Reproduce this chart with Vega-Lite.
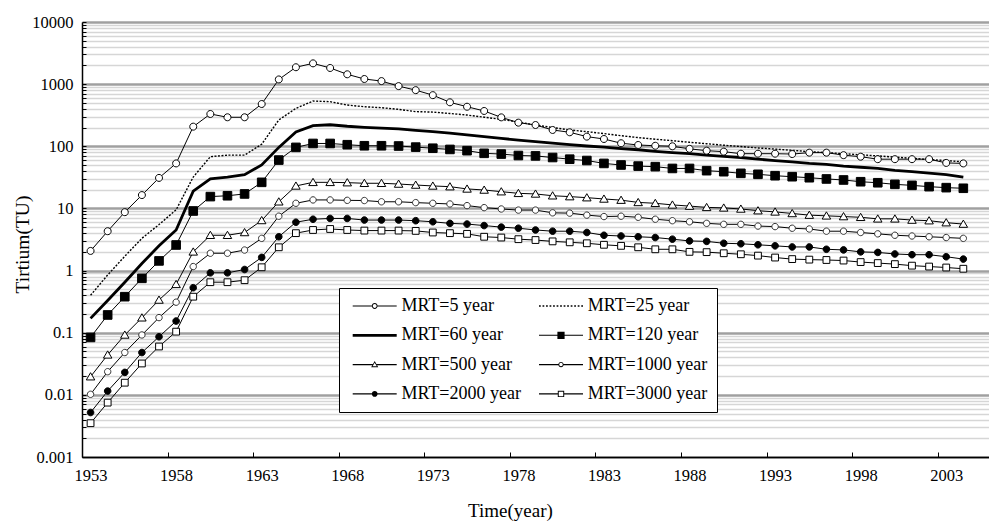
{
  "$schema": "https://vega.github.io/schema/vega-lite/v6.json",
  "width": 907,
  "height": 435,
  "autosize": "none",
  "padding": {"left": 82, "top": 22, "right": 0, "bottom": 64},
  "background": "white",
  "config": {
    "font": "Liberation Serif",
    "view": {"stroke": null}
  },
  "data": {"values": [
{"series":"MRT=5 year","year":1953,"tu":2.07},{"series":"MRT=5 year","year":1954,"tu":4.3},{"series":"MRT=5 year","year":1955,"tu":8.7},{"series":"MRT=5 year","year":1956,"tu":16.4},{"series":"MRT=5 year","year":1957,"tu":31},{"series":"MRT=5 year","year":1958,"tu":53},{"series":"MRT=5 year","year":1959,"tu":207},{"series":"MRT=5 year","year":1960,"tu":331},{"series":"MRT=5 year","year":1961,"tu":293},{"series":"MRT=5 year","year":1962,"tu":293},
{"series":"MRT=5 year","year":1963,"tu":479},{"series":"MRT=5 year","year":1964,"tu":1190},{"series":"MRT=5 year","year":1965,"tu":1870},{"series":"MRT=5 year","year":1966,"tu":2160},{"series":"MRT=5 year","year":1967,"tu":1820},{"series":"MRT=5 year","year":1968,"tu":1440},{"series":"MRT=5 year","year":1969,"tu":1210},{"series":"MRT=5 year","year":1970,"tu":1120},{"series":"MRT=5 year","year":1971,"tu":930},{"series":"MRT=5 year","year":1972,"tu":800},
{"series":"MRT=5 year","year":1973,"tu":665},{"series":"MRT=5 year","year":1974,"tu":510},{"series":"MRT=5 year","year":1975,"tu":433},{"series":"MRT=5 year","year":1976,"tu":370},{"series":"MRT=5 year","year":1977,"tu":292},{"series":"MRT=5 year","year":1978,"tu":240},{"series":"MRT=5 year","year":1979,"tu":220},{"series":"MRT=5 year","year":1980,"tu":183},{"series":"MRT=5 year","year":1981,"tu":168},{"series":"MRT=5 year","year":1982,"tu":143},
{"series":"MRT=5 year","year":1983,"tu":131},{"series":"MRT=5 year","year":1984,"tu":112},{"series":"MRT=5 year","year":1985,"tu":105},{"series":"MRT=5 year","year":1986,"tu":102},{"series":"MRT=5 year","year":1987,"tu":100},{"series":"MRT=5 year","year":1988,"tu":91},{"series":"MRT=5 year","year":1989,"tu":85},{"series":"MRT=5 year","year":1990,"tu":82},{"series":"MRT=5 year","year":1991,"tu":76},{"series":"MRT=5 year","year":1992,"tu":76},
{"series":"MRT=5 year","year":1993,"tu":76},{"series":"MRT=5 year","year":1994,"tu":75},{"series":"MRT=5 year","year":1995,"tu":79},{"series":"MRT=5 year","year":1996,"tu":79},{"series":"MRT=5 year","year":1997,"tu":72},{"series":"MRT=5 year","year":1998,"tu":68},{"series":"MRT=5 year","year":1999,"tu":62},{"series":"MRT=5 year","year":2000,"tu":62},{"series":"MRT=5 year","year":2001,"tu":62},{"series":"MRT=5 year","year":2002,"tu":62},{"series":"MRT=5 year","year":2003,"tu":54},{"series":"MRT=5 year","year":2004,"tu":53},

{"series":"MRT=25 year","year":1953,"tu":0.4},{"series":"MRT=25 year","year":1954,"tu":0.85},{"series":"MRT=25 year","year":1955,"tu":1.7},{"series":"MRT=25 year","year":1956,"tu":3.3},{"series":"MRT=25 year","year":1957,"tu":5.5},{"series":"MRT=25 year","year":1958,"tu":9.5},{"series":"MRT=25 year","year":1959,"tu":32},{"series":"MRT=25 year","year":1960,"tu":68},{"series":"MRT=25 year","year":1961,"tu":72},{"series":"MRT=25 year","year":1962,"tu":72},
{"series":"MRT=25 year","year":1963,"tu":108},{"series":"MRT=25 year","year":1964,"tu":265},{"series":"MRT=25 year","year":1965,"tu":408},{"series":"MRT=25 year","year":1966,"tu":535},{"series":"MRT=25 year","year":1967,"tu":522},{"series":"MRT=25 year","year":1968,"tu":461},{"series":"MRT=25 year","year":1969,"tu":433},{"series":"MRT=25 year","year":1970,"tu":418},{"series":"MRT=25 year","year":1971,"tu":393},{"series":"MRT=25 year","year":1972,"tu":361},
{"series":"MRT=25 year","year":1973,"tu":355},{"series":"MRT=25 year","year":1974,"tu":337},{"series":"MRT=25 year","year":1975,"tu":318},{"series":"MRT=25 year","year":1976,"tu":294},{"series":"MRT=25 year","year":1977,"tu":271},{"series":"MRT=25 year","year":1978,"tu":245},{"series":"MRT=25 year","year":1979,"tu":220},{"series":"MRT=25 year","year":1980,"tu":200},{"series":"MRT=25 year","year":1981,"tu":183},{"series":"MRT=25 year","year":1982,"tu":172},
{"series":"MRT=25 year","year":1983,"tu":160},{"series":"MRT=25 year","year":1984,"tu":148},{"series":"MRT=25 year","year":1985,"tu":138},{"series":"MRT=25 year","year":1986,"tu":130},{"series":"MRT=25 year","year":1987,"tu":123},{"series":"MRT=25 year","year":1988,"tu":116},{"series":"MRT=25 year","year":1989,"tu":110},{"series":"MRT=25 year","year":1990,"tu":104},{"series":"MRT=25 year","year":1991,"tu":99},{"series":"MRT=25 year","year":1992,"tu":94},
{"series":"MRT=25 year","year":1993,"tu":90},{"series":"MRT=25 year","year":1994,"tu":86},{"series":"MRT=25 year","year":1995,"tu":82},{"series":"MRT=25 year","year":1996,"tu":79},{"series":"MRT=25 year","year":1997,"tu":76},{"series":"MRT=25 year","year":1998,"tu":73},{"series":"MRT=25 year","year":1999,"tu":70},{"series":"MRT=25 year","year":2000,"tu":67},{"series":"MRT=25 year","year":2001,"tu":64},{"series":"MRT=25 year","year":2002,"tu":61},{"series":"MRT=25 year","year":2003,"tu":59},{"series":"MRT=25 year","year":2004,"tu":56},

{"series":"MRT=60 year","year":1953,"tu":0.17},{"series":"MRT=60 year","year":1954,"tu":0.33},{"series":"MRT=60 year","year":1955,"tu":0.65},{"series":"MRT=60 year","year":1956,"tu":1.3},{"series":"MRT=60 year","year":1957,"tu":2.5},{"series":"MRT=60 year","year":1958,"tu":4.5},{"series":"MRT=60 year","year":1959,"tu":19},{"series":"MRT=60 year","year":1960,"tu":30},{"series":"MRT=60 year","year":1961,"tu":32},{"series":"MRT=60 year","year":1962,"tu":35},
{"series":"MRT=60 year","year":1963,"tu":50},{"series":"MRT=60 year","year":1964,"tu":96},{"series":"MRT=60 year","year":1965,"tu":170},{"series":"MRT=60 year","year":1966,"tu":215},{"series":"MRT=60 year","year":1967,"tu":222},{"series":"MRT=60 year","year":1968,"tu":210},{"series":"MRT=60 year","year":1969,"tu":202},{"series":"MRT=60 year","year":1970,"tu":196},{"series":"MRT=60 year","year":1971,"tu":190},{"series":"MRT=60 year","year":1972,"tu":180},
{"series":"MRT=60 year","year":1973,"tu":172},{"series":"MRT=60 year","year":1974,"tu":163},{"series":"MRT=60 year","year":1975,"tu":153},{"series":"MRT=60 year","year":1976,"tu":143},{"series":"MRT=60 year","year":1977,"tu":134},{"series":"MRT=60 year","year":1978,"tu":126},{"series":"MRT=60 year","year":1979,"tu":119},{"series":"MRT=60 year","year":1980,"tu":112},{"series":"MRT=60 year","year":1981,"tu":106},{"series":"MRT=60 year","year":1982,"tu":101},
{"series":"MRT=60 year","year":1983,"tu":97},{"series":"MRT=60 year","year":1984,"tu":92},{"series":"MRT=60 year","year":1985,"tu":88},{"series":"MRT=60 year","year":1986,"tu":83},{"series":"MRT=60 year","year":1987,"tu":79},{"series":"MRT=60 year","year":1988,"tu":76},{"series":"MRT=60 year","year":1989,"tu":72},{"series":"MRT=60 year","year":1990,"tu":69},{"series":"MRT=60 year","year":1991,"tu":66},{"series":"MRT=60 year","year":1992,"tu":62},
{"series":"MRT=60 year","year":1993,"tu":59},{"series":"MRT=60 year","year":1994,"tu":56},{"series":"MRT=60 year","year":1995,"tu":53},{"series":"MRT=60 year","year":1996,"tu":51},{"series":"MRT=60 year","year":1997,"tu":48},{"series":"MRT=60 year","year":1998,"tu":46},{"series":"MRT=60 year","year":1999,"tu":44},{"series":"MRT=60 year","year":2000,"tu":41},{"series":"MRT=60 year","year":2001,"tu":39},{"series":"MRT=60 year","year":2002,"tu":37},{"series":"MRT=60 year","year":2003,"tu":35},{"series":"MRT=60 year","year":2004,"tu":32},

{"series":"MRT=120 year","year":1953,"tu":0.084},{"series":"MRT=120 year","year":1954,"tu":0.193},{"series":"MRT=120 year","year":1955,"tu":0.38},{"series":"MRT=120 year","year":1956,"tu":0.75},{"series":"MRT=120 year","year":1957,"tu":1.43},{"series":"MRT=120 year","year":1958,"tu":2.58},{"series":"MRT=120 year","year":1959,"tu":9.1},{"series":"MRT=120 year","year":1960,"tu":15.5},{"series":"MRT=120 year","year":1961,"tu":16},{"series":"MRT=120 year","year":1962,"tu":17.1},
{"series":"MRT=120 year","year":1963,"tu":26.3},{"series":"MRT=120 year","year":1964,"tu":60},{"series":"MRT=120 year","year":1965,"tu":96},{"series":"MRT=120 year","year":1966,"tu":111},{"series":"MRT=120 year","year":1967,"tu":111},{"series":"MRT=120 year","year":1968,"tu":106},{"series":"MRT=120 year","year":1969,"tu":102},{"series":"MRT=120 year","year":1970,"tu":102},{"series":"MRT=120 year","year":1971,"tu":101},{"series":"MRT=120 year","year":1972,"tu":97},
{"series":"MRT=120 year","year":1973,"tu":93},{"series":"MRT=120 year","year":1974,"tu":89},{"series":"MRT=120 year","year":1975,"tu":85},{"series":"MRT=120 year","year":1976,"tu":77},{"series":"MRT=120 year","year":1977,"tu":75},{"series":"MRT=120 year","year":1978,"tu":71},{"series":"MRT=120 year","year":1979,"tu":70},{"series":"MRT=120 year","year":1980,"tu":66},{"series":"MRT=120 year","year":1981,"tu":62},{"series":"MRT=120 year","year":1982,"tu":59},
{"series":"MRT=120 year","year":1983,"tu":53},{"series":"MRT=120 year","year":1984,"tu":50},{"series":"MRT=120 year","year":1985,"tu":48},{"series":"MRT=120 year","year":1986,"tu":47},{"series":"MRT=120 year","year":1987,"tu":44},{"series":"MRT=120 year","year":1988,"tu":44},{"series":"MRT=120 year","year":1989,"tu":40.5},{"series":"MRT=120 year","year":1990,"tu":39},{"series":"MRT=120 year","year":1991,"tu":36.7},{"series":"MRT=120 year","year":1992,"tu":35.4},
{"series":"MRT=120 year","year":1993,"tu":33.6},{"series":"MRT=120 year","year":1994,"tu":32.4},{"series":"MRT=120 year","year":1995,"tu":31.2},{"series":"MRT=120 year","year":1996,"tu":29.8},{"series":"MRT=120 year","year":1997,"tu":28.7},{"series":"MRT=120 year","year":1998,"tu":26.9},{"series":"MRT=120 year","year":1999,"tu":25.9},{"series":"MRT=120 year","year":2000,"tu":24.4},{"series":"MRT=120 year","year":2001,"tu":23.5},{"series":"MRT=120 year","year":2002,"tu":22.4},{"series":"MRT=120 year","year":2003,"tu":21.6},{"series":"MRT=120 year","year":2004,"tu":21.1},

{"series":"MRT=500 year","year":1953,"tu":0.0196},{"series":"MRT=500 year","year":1954,"tu":0.044},{"series":"MRT=500 year","year":1955,"tu":0.092},{"series":"MRT=500 year","year":1956,"tu":0.174},{"series":"MRT=500 year","year":1957,"tu":0.336},{"series":"MRT=500 year","year":1958,"tu":0.6},{"series":"MRT=500 year","year":1959,"tu":2.0},{"series":"MRT=500 year","year":1960,"tu":3.7},{"series":"MRT=500 year","year":1961,"tu":3.7},{"series":"MRT=500 year","year":1962,"tu":4.1},
{"series":"MRT=500 year","year":1963,"tu":6.4},{"series":"MRT=500 year","year":1964,"tu":12.8},{"series":"MRT=500 year","year":1965,"tu":23},{"series":"MRT=500 year","year":1966,"tu":26.3},{"series":"MRT=500 year","year":1967,"tu":26.3},{"series":"MRT=500 year","year":1968,"tu":26},{"series":"MRT=500 year","year":1969,"tu":25.4},{"series":"MRT=500 year","year":1970,"tu":25.4},{"series":"MRT=500 year","year":1971,"tu":24.7},{"series":"MRT=500 year","year":1972,"tu":23.8},
{"series":"MRT=500 year","year":1973,"tu":23},{"series":"MRT=500 year","year":1974,"tu":22.4},{"series":"MRT=500 year","year":1975,"tu":20.6},{"series":"MRT=500 year","year":1976,"tu":19.8},{"series":"MRT=500 year","year":1977,"tu":18.6},{"series":"MRT=500 year","year":1978,"tu":17.5},{"series":"MRT=500 year","year":1979,"tu":17.1},{"series":"MRT=500 year","year":1980,"tu":16},{"series":"MRT=500 year","year":1981,"tu":15.5},{"series":"MRT=500 year","year":1982,"tu":14.9},
{"series":"MRT=500 year","year":1983,"tu":14.2},{"series":"MRT=500 year","year":1984,"tu":13.6},{"series":"MRT=500 year","year":1985,"tu":12.5},{"series":"MRT=500 year","year":1986,"tu":12.1},{"series":"MRT=500 year","year":1987,"tu":11.4},{"series":"MRT=500 year","year":1988,"tu":10.9},{"series":"MRT=500 year","year":1989,"tu":10.4},{"series":"MRT=500 year","year":1990,"tu":10.2},{"series":"MRT=500 year","year":1991,"tu":9.8},{"series":"MRT=500 year","year":1992,"tu":9.2},
{"series":"MRT=500 year","year":1993,"tu":8.8},{"series":"MRT=500 year","year":1994,"tu":8.3},{"series":"MRT=500 year","year":1995,"tu":7.8},{"series":"MRT=500 year","year":1996,"tu":7.6},{"series":"MRT=500 year","year":1997,"tu":7.4},{"series":"MRT=500 year","year":1998,"tu":7.2},{"series":"MRT=500 year","year":1999,"tu":6.8},{"series":"MRT=500 year","year":2000,"tu":6.8},{"series":"MRT=500 year","year":2001,"tu":6.5},{"series":"MRT=500 year","year":2002,"tu":6.35},{"series":"MRT=500 year","year":2003,"tu":5.9},{"series":"MRT=500 year","year":2004,"tu":5.6},

{"series":"MRT=1000 year","year":1953,"tu":0.0102},{"series":"MRT=1000 year","year":1954,"tu":0.0236},{"series":"MRT=1000 year","year":1955,"tu":0.048},{"series":"MRT=1000 year","year":1956,"tu":0.092},{"series":"MRT=1000 year","year":1957,"tu":0.175},{"series":"MRT=1000 year","year":1958,"tu":0.31},{"series":"MRT=1000 year","year":1959,"tu":1.16},{"series":"MRT=1000 year","year":1960,"tu":1.9},{"series":"MRT=1000 year","year":1961,"tu":1.9},{"series":"MRT=1000 year","year":1962,"tu":2.14},
{"series":"MRT=1000 year","year":1963,"tu":3.3},{"series":"MRT=1000 year","year":1964,"tu":7.5},{"series":"MRT=1000 year","year":1965,"tu":12.1},{"series":"MRT=1000 year","year":1966,"tu":13.7},{"series":"MRT=1000 year","year":1967,"tu":13.7},{"series":"MRT=1000 year","year":1968,"tu":13.5},{"series":"MRT=1000 year","year":1969,"tu":13.4},{"series":"MRT=1000 year","year":1970,"tu":12.8},{"series":"MRT=1000 year","year":1971,"tu":12.8},{"series":"MRT=1000 year","year":1972,"tu":12.4},
{"series":"MRT=1000 year","year":1973,"tu":12.1},{"series":"MRT=1000 year","year":1974,"tu":11.8},{"series":"MRT=1000 year","year":1975,"tu":11.1},{"series":"MRT=1000 year","year":1976,"tu":10.3},{"series":"MRT=1000 year","year":1977,"tu":9.8},{"series":"MRT=1000 year","year":1978,"tu":9.4},{"series":"MRT=1000 year","year":1979,"tu":9.4},{"series":"MRT=1000 year","year":1980,"tu":8.5},{"series":"MRT=1000 year","year":1981,"tu":8.4},{"series":"MRT=1000 year","year":1982,"tu":7.8},
{"series":"MRT=1000 year","year":1983,"tu":7.4},{"series":"MRT=1000 year","year":1984,"tu":7.5},{"series":"MRT=1000 year","year":1985,"tu":7.2},{"series":"MRT=1000 year","year":1986,"tu":6.7},{"series":"MRT=1000 year","year":1987,"tu":6.35},{"series":"MRT=1000 year","year":1988,"tu":6.1},{"series":"MRT=1000 year","year":1989,"tu":5.75},{"series":"MRT=1000 year","year":1990,"tu":5.55},{"series":"MRT=1000 year","year":1991,"tu":5.55},{"series":"MRT=1000 year","year":1992,"tu":5.2},
{"series":"MRT=1000 year","year":1993,"tu":5.1},{"series":"MRT=1000 year","year":1994,"tu":4.8},{"series":"MRT=1000 year","year":1995,"tu":4.67},{"series":"MRT=1000 year","year":1996,"tu":4.3},{"series":"MRT=1000 year","year":1997,"tu":4.3},{"series":"MRT=1000 year","year":1998,"tu":4.1},{"series":"MRT=1000 year","year":1999,"tu":3.9},{"series":"MRT=1000 year","year":2000,"tu":3.7},{"series":"MRT=1000 year","year":2001,"tu":3.6},{"series":"MRT=1000 year","year":2002,"tu":3.5},{"series":"MRT=1000 year","year":2003,"tu":3.4},{"series":"MRT=1000 year","year":2004,"tu":3.3},

{"series":"MRT=2000 year","year":1953,"tu":0.0052},{"series":"MRT=2000 year","year":1954,"tu":0.0115},{"series":"MRT=2000 year","year":1955,"tu":0.023},{"series":"MRT=2000 year","year":1956,"tu":0.048},{"series":"MRT=2000 year","year":1957,"tu":0.086},{"series":"MRT=2000 year","year":1958,"tu":0.154},{"series":"MRT=2000 year","year":1959,"tu":0.53},{"series":"MRT=2000 year","year":1960,"tu":0.92},{"series":"MRT=2000 year","year":1961,"tu":0.92},{"series":"MRT=2000 year","year":1962,"tu":1.04},
{"series":"MRT=2000 year","year":1963,"tu":1.63},{"series":"MRT=2000 year","year":1964,"tu":3.5},{"series":"MRT=2000 year","year":1965,"tu":6.0},{"series":"MRT=2000 year","year":1966,"tu":6.7},{"series":"MRT=2000 year","year":1967,"tu":6.9},{"series":"MRT=2000 year","year":1968,"tu":6.9},{"series":"MRT=2000 year","year":1969,"tu":6.5},{"series":"MRT=2000 year","year":1970,"tu":6.5},{"series":"MRT=2000 year","year":1971,"tu":6.5},{"series":"MRT=2000 year","year":1972,"tu":6.35},
{"series":"MRT=2000 year","year":1973,"tu":6.1},{"series":"MRT=2000 year","year":1974,"tu":5.75},{"series":"MRT=2000 year","year":1975,"tu":5.6},{"series":"MRT=2000 year","year":1976,"tu":5.3},{"series":"MRT=2000 year","year":1977,"tu":5.0},{"series":"MRT=2000 year","year":1978,"tu":4.8},{"series":"MRT=2000 year","year":1979,"tu":4.5},{"series":"MRT=2000 year","year":1980,"tu":4.3},{"series":"MRT=2000 year","year":1981,"tu":4.3},{"series":"MRT=2000 year","year":1982,"tu":4.1},
{"series":"MRT=2000 year","year":1983,"tu":3.7},{"series":"MRT=2000 year","year":1984,"tu":3.6},{"series":"MRT=2000 year","year":1985,"tu":3.5},{"series":"MRT=2000 year","year":1986,"tu":3.4},{"series":"MRT=2000 year","year":1987,"tu":3.2},{"series":"MRT=2000 year","year":1988,"tu":3.0},{"series":"MRT=2000 year","year":1989,"tu":2.95},{"series":"MRT=2000 year","year":1990,"tu":2.75},{"series":"MRT=2000 year","year":1991,"tu":2.7},{"series":"MRT=2000 year","year":1992,"tu":2.6},
{"series":"MRT=2000 year","year":1993,"tu":2.5},{"series":"MRT=2000 year","year":1994,"tu":2.4},{"series":"MRT=2000 year","year":1995,"tu":2.4},{"series":"MRT=2000 year","year":1996,"tu":2.2},{"series":"MRT=2000 year","year":1997,"tu":2.15},{"series":"MRT=2000 year","year":1998,"tu":2.0},{"series":"MRT=2000 year","year":1999,"tu":1.96},{"series":"MRT=2000 year","year":2000,"tu":1.85},{"series":"MRT=2000 year","year":2001,"tu":1.8},{"series":"MRT=2000 year","year":2002,"tu":1.8},{"series":"MRT=2000 year","year":2003,"tu":1.67},{"series":"MRT=2000 year","year":2004,"tu":1.53},

{"series":"MRT=3000 year","year":1953,"tu":0.0035},{"series":"MRT=3000 year","year":1954,"tu":0.0075},{"series":"MRT=3000 year","year":1955,"tu":0.0157},{"series":"MRT=3000 year","year":1956,"tu":0.032},{"series":"MRT=3000 year","year":1957,"tu":0.06},{"series":"MRT=3000 year","year":1958,"tu":0.104},{"series":"MRT=3000 year","year":1959,"tu":0.38},{"series":"MRT=3000 year","year":1960,"tu":0.65},{"series":"MRT=3000 year","year":1961,"tu":0.65},{"series":"MRT=3000 year","year":1962,"tu":0.7},
{"series":"MRT=3000 year","year":1963,"tu":1.13},{"series":"MRT=3000 year","year":1964,"tu":2.37},{"series":"MRT=3000 year","year":1965,"tu":4.0},{"series":"MRT=3000 year","year":1966,"tu":4.5},{"series":"MRT=3000 year","year":1967,"tu":4.67},{"series":"MRT=3000 year","year":1968,"tu":4.5},{"series":"MRT=3000 year","year":1969,"tu":4.4},{"series":"MRT=3000 year","year":1970,"tu":4.4},{"series":"MRT=3000 year","year":1971,"tu":4.4},{"series":"MRT=3000 year","year":1972,"tu":4.35},
{"series":"MRT=3000 year","year":1973,"tu":4.1},{"series":"MRT=3000 year","year":1974,"tu":4.0},{"series":"MRT=3000 year","year":1975,"tu":3.9},{"series":"MRT=3000 year","year":1976,"tu":3.5},{"series":"MRT=3000 year","year":1977,"tu":3.4},{"series":"MRT=3000 year","year":1978,"tu":3.2},{"series":"MRT=3000 year","year":1979,"tu":3.1},{"series":"MRT=3000 year","year":1980,"tu":2.95},{"series":"MRT=3000 year","year":1981,"tu":2.85},{"series":"MRT=3000 year","year":1982,"tu":2.75},
{"series":"MRT=3000 year","year":1983,"tu":2.6},{"series":"MRT=3000 year","year":1984,"tu":2.5},{"series":"MRT=3000 year","year":1985,"tu":2.37},{"series":"MRT=3000 year","year":1986,"tu":2.2},{"series":"MRT=3000 year","year":1987,"tu":2.2},{"series":"MRT=3000 year","year":1988,"tu":2.0},{"series":"MRT=3000 year","year":1989,"tu":1.98},{"series":"MRT=3000 year","year":1990,"tu":1.9},{"series":"MRT=3000 year","year":1991,"tu":1.83},{"series":"MRT=3000 year","year":1992,"tu":1.74},
{"series":"MRT=3000 year","year":1993,"tu":1.62},{"series":"MRT=3000 year","year":1994,"tu":1.53},{"series":"MRT=3000 year","year":1995,"tu":1.5},{"series":"MRT=3000 year","year":1996,"tu":1.48},{"series":"MRT=3000 year","year":1997,"tu":1.45},{"series":"MRT=3000 year","year":1998,"tu":1.37},{"series":"MRT=3000 year","year":1999,"tu":1.32},{"series":"MRT=3000 year","year":2000,"tu":1.27},{"series":"MRT=3000 year","year":2001,"tu":1.2},{"series":"MRT=3000 year","year":2002,"tu":1.16},{"series":"MRT=3000 year","year":2003,"tu":1.12},{"series":"MRT=3000 year","year":2004,"tu":1.07}
  ]},
  "encoding": {
    "x": {
      "field": "year", "type": "quantitative",
      "scale": {"domain": [1952.5, 2005.5], "nice": false, "zero": false},
      "axis": {
        "title": "Time(year)",
        "values": [1953, 1958, 1963, 1968, 1973, 1978, 1983, 1988, 1993, 1998, 2003],
        "format": "d",
        "grid": false,
        "domainColor": "black", "domainWidth": 1.5,
        "tickColor": "black", "tickSize": -5, "tickWidth": 1,
        "tickOffset": -8.56, "labelOffset": 8.56,
        "labelPadding": 15,
        "labelFont": "Liberation Serif", "labelFontSize": 16.5, "labelColor": "black",
        "titleFont": "Liberation Serif", "titleFontSize": 19, "titleFontWeight": "normal", "titleColor": "black",
        "titleX": 428, "titleY": 53, "titleBaseline": "middle", "titleAlign": "center"
      }
    },
    "y": {
      "field": "tu", "type": "quantitative",
      "scale": {"type": "log", "domain": [0.001, 10000], "nice": false},
      "axis": {
        "title": "Tirtium(TU)",
        "values": [0.001,0.002,0.003,0.004,0.005,0.006,0.007,0.008,0.009,0.01,0.02,0.03,0.04,0.05,0.06,0.07,0.08,0.09,0.1,0.2,0.3,0.4,0.5,0.6,0.7,0.8,0.9,1,2,3,4,5,6,7,8,9,10,20,30,40,50,60,70,80,90,100,200,300,400,500,600,700,800,900,1000,2000,3000,4000,5000,6000,7000,8000,9000,10000],
        "format": "~g",
        "labelExpr": "abs(log(datum.value)/LN10 - round(log(datum.value)/LN10)) < 0.001 ? datum.label : ''",
        "labelOverlap": false,
        "grid": true,
        "gridColor": {"condition": {"test": "abs(log(datum.value)/LN10 - round(log(datum.value)/LN10)) < 0.001", "value": "#a0a0a0"}, "value": "#d6d6d6"},
        "gridWidth": {"condition": {"test": "abs(log(datum.value)/LN10 - round(log(datum.value)/LN10)) < 0.001", "value": 2.4}, "value": 1.6},
        "domainColor": "black", "domainWidth": 1.5,
        "tickColor": "black", "tickSize": -4, "tickWidth": 1,
        "labelPadding": 13,
        "labelFont": "Liberation Serif", "labelFontSize": 16.5, "labelColor": "black",
        "titleFont": "Liberation Serif", "titleFontSize": 19.5, "titleFontWeight": "normal", "titleColor": "black",
        "titleX": -60, "titleY": 222, "titleBaseline": "middle", "titleAlign": "center", "titleAngle": -90
      }
    }
  },
  "layer": [
    {
      "transform": [{"filter": "datum.series != 'MRT=25 year' && datum.series != 'MRT=60 year'"}],
      "mark": {"type": "line", "color": "black", "strokeWidth": 1},
      "encoding": {"detail": {"field": "series"}}
    },
    {
      "transform": [{"filter": "datum.series == 'MRT=25 year'"}],
      "mark": {"type": "line", "color": "black", "strokeWidth": 1.4, "strokeDash": [2, 1.5]},
      "encoding": {}
    },
    {
      "transform": [{"filter": "datum.series == 'MRT=60 year'"}],
      "mark": {"type": "line", "color": "black", "strokeWidth": 2.8},
      "encoding": {}
    },
    {
      "transform": [{"filter": "datum.series == 'MRT=5 year'"}],
      "mark": {"type": "point", "filled": true, "fill": "white", "stroke": "black", "strokeWidth": 1, "size": 100, "opacity": 1, "shape": "M0.7,0A0.7,0.7,0,1,1,-0.7,0A0.7,0.7,0,1,1,0.7,0Z"}
    },
    {
      "transform": [{"filter": "datum.series == 'MRT=120 year'"}],
      "mark": {"type": "point", "filled": true, "fill": "black", "stroke": "black", "strokeWidth": 1, "size": 100, "opacity": 1, "shape": "M-0.86,-0.86L0.86,-0.86L0.86,0.86L-0.86,0.86Z"}
    },
    {
      "transform": [{"filter": "datum.series == 'MRT=500 year'"}],
      "mark": {"type": "point", "filled": true, "fill": "white", "stroke": "black", "strokeWidth": 1, "size": 100, "opacity": 1, "shape": "M0,-0.8L0.85,0.65L-0.85,0.65Z"}
    },
    {
      "transform": [{"filter": "datum.series == 'MRT=1000 year'"}],
      "mark": {"type": "point", "filled": true, "fill": "white", "stroke": "#333333", "strokeWidth": 1, "size": 100, "opacity": 1, "shape": "M0.64,0A0.64,0.64,0,1,1,-0.64,0A0.64,0.64,0,1,1,0.64,0Z"}
    },
    {
      "transform": [{"filter": "datum.series == 'MRT=2000 year'"}],
      "mark": {"type": "point", "filled": true, "fill": "black", "stroke": "black", "strokeWidth": 1, "size": 100, "opacity": 1, "shape": "M0.66,0A0.66,0.66,0,1,1,-0.66,0A0.66,0.66,0,1,1,0.66,0Z"}
    },
    {
      "transform": [{"filter": "datum.series == 'MRT=3000 year'"}],
      "mark": {"type": "point", "filled": true, "fill": "white", "stroke": "black", "strokeWidth": 1, "size": 100, "opacity": 1, "shape": "M-0.68,-0.68L0.68,-0.68L0.68,0.68L-0.68,0.68Z"}
    },
    {
      "transform": [{"filter": "datum.year == 1953"}],
      "mark": {"type": "point", "filled": true, "stroke": "black", "strokeWidth": 1, "size": 0, "opacity": 1},
      "encoding": {
        "shape": {
          "field": "series", "type": "nominal",
          "scale": {"domain": ["MRT=5 year","MRT=25 year","MRT=60 year","MRT=120 year","MRT=500 year","MRT=1000 year","MRT=2000 year","MRT=3000 year"],
                    "range": [
                      "M-2.75,-0.07L-0.35,-0.07L-0.35,0.07L-2.75,0.07ZM0.35,-0.07L2.75,-0.07L2.75,0.07L0.35,0.07ZM0.36,0A0.36,0.36,0,1,1,-0.36,0A0.36,0.36,0,1,1,0.36,0ZM0.24,0A0.24,0.24,0,1,0,-0.24,0A0.24,0.24,0,1,0,0.24,0Z",
                      "M-2.75,-0.08L-2.53,-0.08L-2.53,0.08L-2.75,0.08ZM-2.31,-0.08L-2.09,-0.08L-2.09,0.08L-2.31,0.08ZM-1.87,-0.08L-1.65,-0.08L-1.65,0.08L-1.87,0.08ZM-1.43,-0.08L-1.21,-0.08L-1.21,0.08L-1.43,0.08ZM-0.99,-0.08L-0.77,-0.08L-0.77,0.08L-0.99,0.08ZM-0.55,-0.08L-0.33,-0.08L-0.33,0.08L-0.55,0.08ZM-0.11,-0.08L0.11,-0.08L0.11,0.08L-0.11,0.08ZM0.33,-0.08L0.55,-0.08L0.55,0.08L0.33,0.08ZM0.77,-0.08L0.99,-0.08L0.99,0.08L0.77,0.08ZM1.21,-0.08L1.43,-0.08L1.43,0.08L1.21,0.08ZM1.65,-0.08L1.87,-0.08L1.87,0.08L1.65,0.08ZM2.09,-0.08L2.31,-0.08L2.31,0.08L2.09,0.08ZM2.53,-0.08L2.75,-0.08L2.75,0.08L2.53,0.08Z",
                      "M-2.75,-0.17L2.75,-0.17L2.75,0.17L-2.75,0.17Z",
                      "M-2.75,-0.07L2.75,-0.07L2.75,0.07L-2.75,0.07ZM-0.45,-0.45L0.45,-0.45L0.45,0.45L-0.45,0.45Z",
                      "M-2.75,-0.07L-0.24,-0.07L-0.24,0.07L-2.75,0.07ZM0.24,-0.07L2.75,-0.07L2.75,0.07L0.24,0.07ZM0,-0.44L0.44,0.32L-0.44,0.32ZM0,-0.22L-0.26,0.2L0.26,0.2Z",
                      "M-2.75,-0.07L-0.33,-0.07L-0.33,0.07L-2.75,0.07ZM0.33,-0.07L2.75,-0.07L2.75,0.07L0.33,0.07ZM0.34,0A0.34,0.34,0,1,1,-0.34,0A0.34,0.34,0,1,1,0.34,0ZM0.22,0A0.22,0.22,0,1,0,-0.22,0A0.22,0.22,0,1,0,0.22,0Z",
                      "M-2.75,-0.07L2.75,-0.07L2.75,0.07L-2.75,0.07ZM0.36,0A0.36,0.36,0,1,1,-0.36,0A0.36,0.36,0,1,1,0.36,0Z",
                      "M-2.75,-0.07L-0.4,-0.07L-0.4,0.07L-2.75,0.07ZM0.4,-0.07L2.75,-0.07L2.75,0.07L0.4,0.07ZM-0.4,-0.4L0.4,-0.4L0.4,0.4L-0.4,0.4ZM-0.28,-0.28L-0.28,0.28L0.28,0.28L0.28,-0.28Z"
                    ]},
          "legend": {
            "title": null,
            "orient": "none", "legendX": 257, "legendY": 266,
            "columns": 2, "direction": "horizontal",
            "symbolSize": 256,
            "symbolOffset": 17.7,
            "labelFont": "Liberation Serif", "labelFontSize": 18, "labelColor": "black",
            "labelOffset": 17.7, "labelLimit": 300,
            "rowPadding": 11.3, "columnPadding": 13.3, "padding": 9,
            "strokeColor": "black", "fillColor": "white",
            "symbolStrokeColor": "black", "symbolStrokeWidth": 1, "symbolOpacity": 1
          }
        },
        "fill": {
          "field": "series", "type": "nominal",
          "scale": {"domain": ["MRT=5 year","MRT=25 year","MRT=60 year","MRT=120 year","MRT=500 year","MRT=1000 year","MRT=2000 year","MRT=3000 year"],
                    "range": ["black","black","black","black","black","black","black","black"]},
          "legend": {
            "title": null,
            "orient": "none", "legendX": 257, "legendY": 266,
            "columns": 2, "direction": "horizontal",
            "symbolSize": 256,
            "symbolOffset": 17.7,
            "labelFont": "Liberation Serif", "labelFontSize": 18, "labelColor": "black",
            "labelOffset": 17.7, "labelLimit": 300,
            "rowPadding": 11.3, "columnPadding": 13.3, "padding": 9,
            "strokeColor": "black", "fillColor": "white",
            "symbolStrokeColor": "black", "symbolStrokeWidth": 1, "symbolOpacity": 1
          }
        }
      }
    }
  ]
}
